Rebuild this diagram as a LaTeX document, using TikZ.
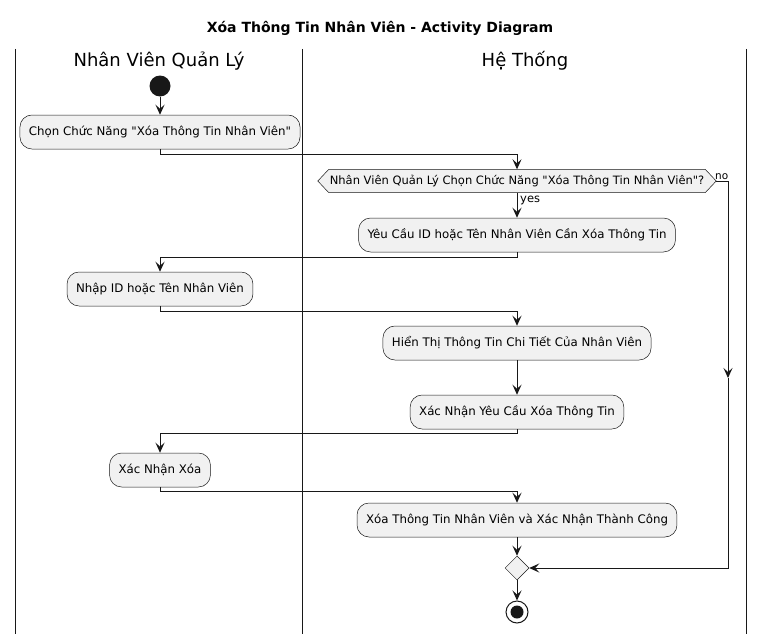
\documentclass[tikz,border=0pt]{standalone}
\usepackage{fontspec}
\setmainfont{DejaVu Sans}[Ligatures=TeXOff]
\usetikzlibrary{arrows.meta,shapes.geometric,backgrounds}
\definecolor{boxfill}{HTML}{F1F1F1}
\definecolor{linec}{HTML}{181818}
\begin{document}
\begin{tikzpicture}[x=1pt,y=-1pt,
  act/.style={draw=linec,fill=boxfill,rounded corners=12pt,line width=0.5pt,inner xsep=9pt,inner ysep=0pt,minimum height=34pt,font=\fontsize{11.8}{14}\selectfont},
  flow/.style={draw=linec,line width=1pt,-{Stealth[length=10pt,width=9pt,inset=4pt]}},
  lane/.style={draw=linec,line width=1pt}]
\useasboundingbox (0,0) rectangle (765,634);
% title
\node[font=\bfseries\fontsize{14}{16}\selectfont] (title) at (380,28) {Xóa Thông Tin Nhân Viên - Activity Diagram};
% lanes
\coordinate (l1t) at (15,49); \coordinate (l1b) at (15,634);
\coordinate (l2t) at (302,49); \coordinate (l2b) at (302,634);
\coordinate (l3t) at (746,49); \coordinate (l3b) at (746,634);
\draw[lane] (l1t) -- (l1b);
\draw[lane] (l2t) -- (l2b);
\draw[lane] (l3t) -- (l3b);
\node[font=\fontsize{18}{20}\selectfont] (h1) at (159,61) {Nhân Viên Quản Lý};
\node[font=\fontsize{18}{20}\selectfont] (h2) at (525,61) {Hệ Thống};
% nodes
\node[circle,fill=linec,minimum size=21pt,inner sep=0pt] (start) at (160,86) {};
\node[act] (b1) at (160,132) {Chọn Chức Năng "Xóa Thông Tin Nhân Viên"};
\node[font=\fontsize{11.5}{13}\selectfont,inner sep=0pt,minimum width=376pt,minimum height=23pt] (dec) at (517,181) {Nhân Viên Quản Lý Chọn Chức Năng "Xóa Thông Tin Nhân Viên"?};
\coordinate (tipL) at ([xshift=-11pt]dec.west);
\coordinate (tipR) at ([xshift=11pt]dec.east);
\begin{scope}[on background layer]
\fill[white] (0,0) rectangle (765,634);
\draw[draw=linec,fill=boxfill,line width=0.5pt] (tipL) -- (dec.north west) -- (dec.north east) -- (tipR) -- (dec.south east) -- (dec.south west) -- cycle;
\end{scope}
\node[font=\fontsize{10.5}{12}\selectfont,anchor=base west,inner sep=0pt] (nolab) at (715,179) {no};
\node[font=\fontsize{11.5}{13}\selectfont,anchor=west,inner sep=0pt] (yeslab) at (520,200) {yes};
\node[act] (b2) at (517,235) {Yêu Cầu ID hoặc Tên Nhân Viên Cần Xóa Thông Tin};
\node[act] (b3) at (160,289) {Nhập ID hoặc Tên Nhân Viên};
\node[act] (b4) at (517,343) {Hiển Thị Thông Tin Chi Tiết Của Nhân Viên};
\node[act] (b5) at (517,412) {Xác Nhận Yêu Cầu Xóa Thông Tin};
\node[act] (b6) at (160,470) {Xác Nhận Xóa};
\node[act] (b7) at (517,520) {Xóa Thông Tin Nhân Viên và Xác Nhận Thành Công};
\node[diamond,draw=linec,fill=boxfill,line width=0.5pt,minimum size=24pt,inner sep=0pt] (merge) at (517,568) {};
\node[circle,draw=linec,line width=1pt,minimum size=22pt,inner sep=0pt] (end) at (517,612) {};
\node[circle,fill=linec,minimum size=13pt,inner sep=0pt] (endin) at (end.center) {};
% connectors
\draw[flow] (start) -- (b1);
\draw[flow] (b1.south) -- ++(0,5) -| (dec.north);
\draw[flow] (dec.south) -- (b2);
\draw[flow] (b2.south) -- ++(0,5) -| (b3.north);
\draw[flow] (b3.south) -- ++(0,5) -| (b4.north);
\draw[flow] (b4) -- (b5);
\draw[flow] (b5.south) -- ++(0,4) -| (b6.north);
\draw[flow] (b6.south) -- ++(0,4) -| (b7.north);
\draw[flow] (b7) -- (merge);
\draw[flow] (merge) -- (end);
\coordinate (nc1) at (728,181);
\coordinate (nmid) at (728,378);
\coordinate (nc2) at (728,568);
\draw[flow] (tipR) -- (nc1) -- (nmid);
\draw[flow] (nmid) -- (nc2) -- (merge.east);
\end{tikzpicture}
\end{document}
